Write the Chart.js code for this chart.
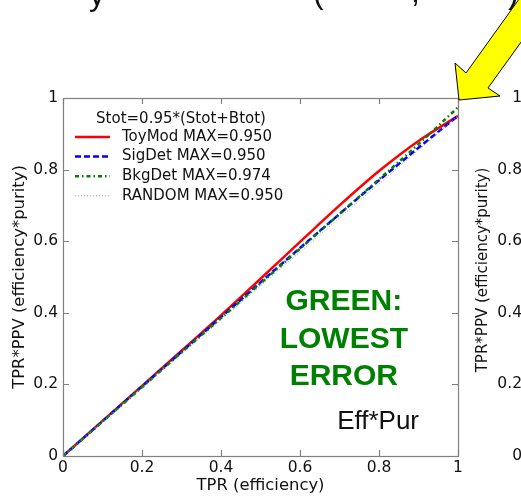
<!DOCTYPE html>
<html>
<head>
<meta charset="utf-8">
<script src="https://cdn.jsdelivr.net/npm/chart.js@4.4.0/dist/chart.umd.min.js"></script>
<style>
  html, body { margin: 0; padding: 0; background: #fff; }
  canvas { display: block; }
</style>
</head>
<body>
<canvas id="effPurChart" width="521" height="496"></canvas>
<script>
// TPR grid shared by every curve
const tpr = [0, 0.1, 0.2, 0.3, 0.4, 0.5, 0.6, 0.7, 0.8, 0.9, 1.0];
// TPR*PPV (efficiency*purity) per method
const toyMod = [0, 0.098, 0.196, 0.294, 0.393, 0.495, 0.598, 0.700, 0.796, 0.880, 0.950];
const sigDet = [0, 0.097, 0.194, 0.291, 0.388, 0.485, 0.581, 0.676, 0.770, 0.861, 0.950];
const bkgDet = [0, 0.096, 0.192, 0.289, 0.385, 0.482, 0.579, 0.676, 0.773, 0.871, 0.974];
const random = [0, 0.095, 0.190, 0.285, 0.380, 0.475, 0.570, 0.665, 0.760, 0.855, 0.950];
const sigFraction = 0.95;
const axisTicks = [0, 0.2, 0.4, 0.6, 0.8, 1];

const tickFont = { family: 'DejaVu Sans', size: 15.5 };
const titleFont = { family: 'DejaVu Sans', size: 16.4 };
const fmtTick = v => (v === 0 ? '0' : v === 1 ? '1' : v.toFixed(1));
const maxLabel = (name, arr) => name + ' MAX=' + Math.max(...arr).toFixed(3);
const toPts = arr => tpr.map((x, i) => ({ x: x, y: arr[i] }));

// frame on all four sides with inward tick marks
const frameTicks = {
    id: 'frameTicks',
    afterDatasetsDraw(chart) {
        const { ctx, chartArea: a, scales } = chart;
        ctx.save();
        ctx.strokeStyle = '#808080';
        ctx.lineWidth = 1.2;
        ctx.strokeRect(a.left + 0.5, a.top + 0.5, a.right - a.left, a.bottom - a.top);
        ctx.beginPath();
        axisTicks.forEach(v => {
            const px = Math.round(scales.x.getPixelForValue(v)) + 0.5;
            const py = Math.round(scales.y.getPixelForValue(v)) + 0.5;
            ctx.moveTo(px, a.bottom); ctx.lineTo(px, a.bottom - 6);
            ctx.moveTo(px, a.top); ctx.lineTo(px, a.top + 6);
            ctx.moveTo(a.left, py); ctx.lineTo(a.left + 6, py);
            ctx.moveTo(a.right, py); ctx.lineTo(a.right - 6, py);
        });
        ctx.stroke();
        ctx.restore();
    }
};

// legend drawn inside the axes, no frame
const innerLegend = {
    id: 'innerLegend',
    afterDatasetsDraw(chart) {
        const ctx = chart.ctx;
        ctx.save();
        ctx.font = '15px "DejaVu Sans"';
        ctx.fillStyle = '#111';
        ctx.textBaseline = 'middle';
        ctx.textAlign = 'center';
        ctx.fillText('Stot=' + sigFraction.toFixed(2) + '*(Stot+Btot)', 181, 119);
        ctx.textAlign = 'left';
        chart.data.datasets.forEach((ds, i) => {
            const y = 137 + i * 19.6;
            ctx.beginPath();
            ctx.strokeStyle = ds.borderColor;
            ctx.lineWidth = ds.borderWidth;
            ctx.setLineDash(ds.borderDash || []);
            ctx.moveTo(75, y);
            ctx.lineTo(110, y);
            ctx.stroke();
            ctx.setLineDash([]);
            ctx.fillText(ds.label, 122, y);
        });
        ctx.restore();
    }
};

// text notes placed in data coordinates
const notes = {
    id: 'notes',
    afterDatasetsDraw(chart) {
        const { ctx, scales } = chart;
        ctx.save();
        ctx.textBaseline = 'middle';
        ctx.textAlign = 'center';
        ctx.fillStyle = '#008000';
        ctx.font = 'bold 30px "Liberation Sans"';
        const cx = scales.x.getPixelForValue(0.711);
        ctx.fillText('GREEN:', cx, scales.y.getPixelForValue(0.430));
        ctx.fillText('LOWEST', cx, scales.y.getPixelForValue(0.324));
        ctx.fillText('ERROR', cx, scales.y.getPixelForValue(0.221));
        ctx.fillStyle = '#111';
        ctx.textAlign = 'left';
        ctx.font = '26px "Liberation Sans"';
        ctx.fillText('Eff*Pur', scales.x.getPixelForValue(0.694), scales.y.getPixelForValue(0.095));
        ctx.restore();
    }
};

// neighbouring panel's axis, slide title remains and the pointer arrow
const slideBits = {
    id: 'slideBits',
    afterDraw(chart) {
        const { ctx, scales } = chart;
        ctx.save();
        ctx.fillStyle = '#111';
        ctx.font = '15.5px "DejaVu Sans"';
        ctx.textAlign = 'right';
        ctx.textBaseline = 'middle';
        axisTicks.forEach(v => ctx.fillText(fmtTick(v), 522, scales.y.getPixelForValue(v)));
        ctx.font = '15px "DejaVu Sans"';
        ctx.translate(483, 270);
        ctx.rotate(-Math.PI / 2);
        ctx.textAlign = 'center';
        ctx.fillText('TPR*PPV (efficiency*purity)', 0, 0);
        ctx.restore();

        ctx.save();
        ctx.fillStyle = '#111';
        ctx.font = '32px "Liberation Sans"';
        ctx.textBaseline = 'alphabetic';
        ctx.fillText('y', 89, 5);
        ctx.fillText('(', 313, 3);
        ctx.fillText(',', 411, 2);
        ctx.fillText(')', 508, 3);
        ctx.restore();

        ctx.save();
        ctx.beginPath();
        ctx.moveTo(459, 100);
        ctx.lineTo(455, 63);
        ctx.lineTo(466, 73);
        ctx.lineTo(527, -12);
        ctx.lineTo(560, -12);
        ctx.lineTo(488, 88);
        ctx.lineTo(500, 96);
        ctx.closePath();
        ctx.fillStyle = '#ffff00';
        ctx.fill();
        ctx.strokeStyle = '#000';
        ctx.lineWidth = 1;
        ctx.stroke();
        ctx.restore();
    }
};

const ctx = document.getElementById('effPurChart').getContext('2d');
new Chart(ctx, {
    type: 'line',
    data: {
        datasets: [
            { label: maxLabel('ToyMod', toyMod), data: toPts(toyMod), borderColor: '#ff0000', borderWidth: 2.5, order: 4 },
            { label: maxLabel('SigDet', sigDet), data: toPts(sigDet), borderColor: '#0000ff', borderWidth: 2.5, borderDash: [6, 3], order: 3 },
            { label: maxLabel('BkgDet', bkgDet), data: toPts(bkgDet), borderColor: '#008000', borderWidth: 2.5, borderDash: [4, 3, 1.5, 3], order: 2 },
            { label: maxLabel('RANDOM', random), data: toPts(random), borderColor: '#a0a0a0', borderWidth: 1, borderDash: [1, 2], order: 1 }
        ]
    },
    options: {
        responsive: false,
        animation: false,
        events: [],
        elements: { point: { radius: 0 }, line: { cubicInterpolationMode: 'monotone', fill: false } },
        layout: { padding: { left: 0, top: 98, right: 63, bottom: 0 } },
        plugins: { legend: { display: false }, tooltip: { enabled: false } },
        scales: {
            x: {
                type: 'linear', min: 0, max: 1,
                afterFit: s => { s.height = 40; },
                afterBuildTicks: s => { s.ticks = axisTicks.map(v => ({ value: v })); },
                grid: { display: false, drawTicks: false },
                border: { display: false },
                ticks: { font: tickFont, color: '#111', padding: 3, maxRotation: 0, autoSkip: false, callback: fmtTick },
                title: { display: true, text: 'TPR (efficiency)', font: titleFont, color: '#111', padding: { top: 0, bottom: 0 } }
            },
            y: {
                type: 'linear', min: 0, max: 1,
                afterFit: s => { s.width = 63; },
                afterBuildTicks: s => { s.ticks = axisTicks.map(v => ({ value: v })); },
                grid: { display: false, drawTicks: false },
                border: { display: false },
                ticks: { font: tickFont, color: '#111', padding: 5, autoSkip: false, callback: fmtTick },
                title: { display: true, text: 'TPR*PPV (efficiency*purity)', font: titleFont, color: '#111', padding: { top: 10, bottom: 0 } }
            }
        }
    },
    plugins: [frameTicks, innerLegend, notes, slideBits]
});
</script>
</body>
</html>
